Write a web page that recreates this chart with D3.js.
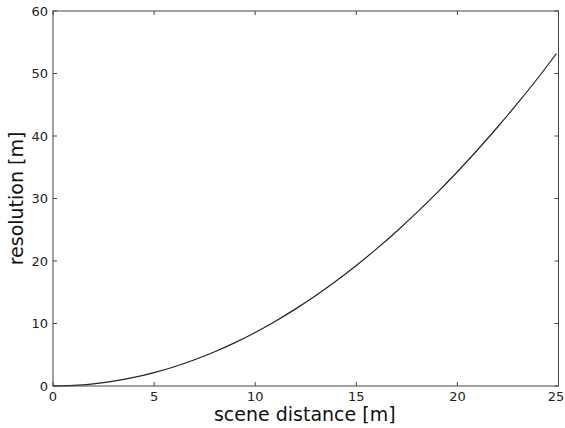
<!DOCTYPE html>
<html><head><meta charset="utf-8">
<script src="https://cdn.jsdelivr.net/npm/d3@7"></script>
<style>body{margin:0;background:#fff}svg{display:block}text{font-family:"DejaVu Sans",sans-serif}</style>
</head><body><svg id="c" width="565" height="428"></svg>
<script>
const distance = [0,1,2,3,4,5,6,7,8,9,10,11,12,13,14,15,16,17,18,19,20,21,22,23,24,24.9];
const resolution = [0,0.09,0.34,0.77,1.37,2.14,3.08,4.2,5.48,6.94,8.57,10.37,12.34,14.48,16.8,19.28,21.94,24.77,27.77,30.94,34.28,37.8,41.48,45.33,49.36,53.2];
const xTicks = [0,5,10,15,20,25];
const yTicks = [0,10,20,30,40,50,60];

const svg = d3.select("#c");
const L=53, R=558.5, T=11, B=386;
const x = d3.scaleLinear().domain([0,25]).range([L,R]);
const y = d3.scaleLinear().domain([0,60]).range([B,T]);
const ax="#444";
const g = svg.append("g");
xTicks.forEach(v=>{
  g.append("line").attr("x1",x(v)).attr("x2",x(v)).attr("y1",B).attr("y2",B-4).attr("stroke",ax);
  g.append("line").attr("x1",x(v)).attr("x2",x(v)).attr("y1",T).attr("y2",T+4).attr("stroke",ax);
  g.append("text").attr("x",Math.min(x(v),556)).attr("y",B+15).attr("text-anchor","middle").attr("font-size",13).attr("fill","#222").text(v);
});
yTicks.forEach(v=>{
  g.append("line").attr("x1",L).attr("x2",L+4).attr("y1",y(v)).attr("y2",y(v)).attr("stroke",ax);
  g.append("line").attr("x1",R).attr("x2",R-4).attr("y1",y(v)).attr("y2",y(v)).attr("stroke",ax);
  g.append("text").attr("x",L-5).attr("y",y(v)+4.5).attr("text-anchor","end").attr("font-size",13).attr("fill","#222").text(v);
});
const line = d3.line().x((d,i)=>x(distance[i])).y(d=>y(d)).curve(d3.curveMonotoneX);
svg.append("path").datum(resolution).attr("d",line).attr("fill","none").attr("stroke","#222").attr("stroke-width",1.2);
svg.append("rect").attr("x",L).attr("y",T).attr("width",R-L).attr("height",B-T).attr("fill","none").attr("stroke",ax).attr("stroke-width",1);
svg.append("text").attr("x",(L+R)/2-1).attr("y",421).attr("text-anchor","middle").attr("font-size",19).attr("fill","#111").text("scene distance [m]");
svg.append("text").attr("transform",`translate(23,${(T+B)/2}) rotate(-90)`).attr("text-anchor","middle").attr("font-size",19).attr("fill","#111").text("resolution [m]");
</script></body></html>
